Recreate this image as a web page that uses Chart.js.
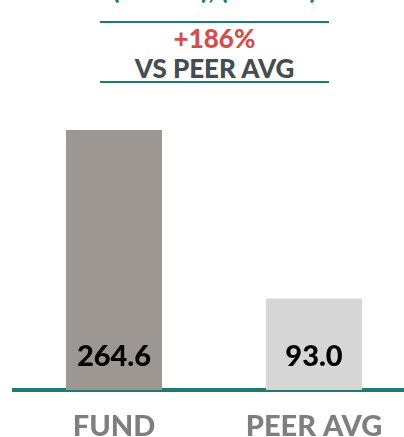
<!DOCTYPE html>
<html>
<head>
<meta charset="utf-8">
<script src="https://cdn.jsdelivr.net/npm/chart.js@4"></script>
<style>
body{margin:0;width:404px;height:437px;overflow:hidden;background:#fff;font-family:Lato,sans-serif;position:relative}
#cont{position:absolute;left:0;top:0;width:420px;height:437px}
.linea{position:absolute;left:100px;width:229px;height:0;border-top:2px solid #1e7b6d}
.txt{position:absolute;left:100px;width:229px;text-align:center;font-weight:900;white-space:nowrap}
</style>
</head>
<body>
<!-- titulo cortado arriba -->
<div class="txt" style="top:-24px;font-size:26px;line-height:26px;color:#1e7b6d">(+171.6), (+186%)</div>
<div class="linea" style="top:21px"></div>
<div class="txt" style="top:25px;font-size:26px;line-height:26px;color:#d0504f">+186%</div>
<div class="txt" style="top:55px;font-size:26px;line-height:26px;color:#434d54">VS PEER AVG</div>
<div class="linea" style="top:81px"></div>
<div id="cont"><canvas id="grafico"></canvas></div>
<script>
//datos
const categorias=['FUND','PEER AVG'];
const valores=[264.6,93.0];
const coloresBarras=['#9d9794','#d6d6d6'];

const verde='#1e7b6d';

//etiquetas de valor dentro de la barra, cerca de la base
const etiquetasValor={
    id:'etiquetasValor',
    afterDatasetsDraw(chart)
    {
        const ctx=chart.ctx;
        const meta=chart.getDatasetMeta(0);
        ctx.save();
        ctx.font='900 29px Lato';
        ctx.fillStyle='#000';
        ctx.textAlign='center';
        ctx.textBaseline='alphabetic';
        meta.data.forEach((barra,i)=>
        {
            ctx.fillText(valores[i].toFixed(1),barra.x,barra.base-24);
        });
        ctx.restore();
    }
};

new Chart(document.getElementById('grafico'),{
    type:'bar',
    data:{
        labels:categorias,
        datasets:[{
            data:valores,
            backgroundColor:coloresBarras,
            borderWidth:0,
            categoryPercentage:1,
            barPercentage:0.48
        }]
    },
    options:{
        responsive:true,
        maintainAspectRatio:false,
        animation:false,
        layout:{padding:{top:130,left:14,right:6,bottom:0}},
        plugins:{legend:{display:false},tooltip:{enabled:false}},
        scales:{
            y:{display:false,min:0,max:Math.max(...valores)},
            x:{
                grid:{display:false,drawTicks:false},
                border:{display:true,color:verde,width:4},
                ticks:{color:'#7f7f7f',font:{family:'Lato',size:29,weight:900},padding:19},
                afterFit(s){s.height=47;}
            }
        }
    },
    plugins:[etiquetasValor]
});
</script>
</body>
</html>
